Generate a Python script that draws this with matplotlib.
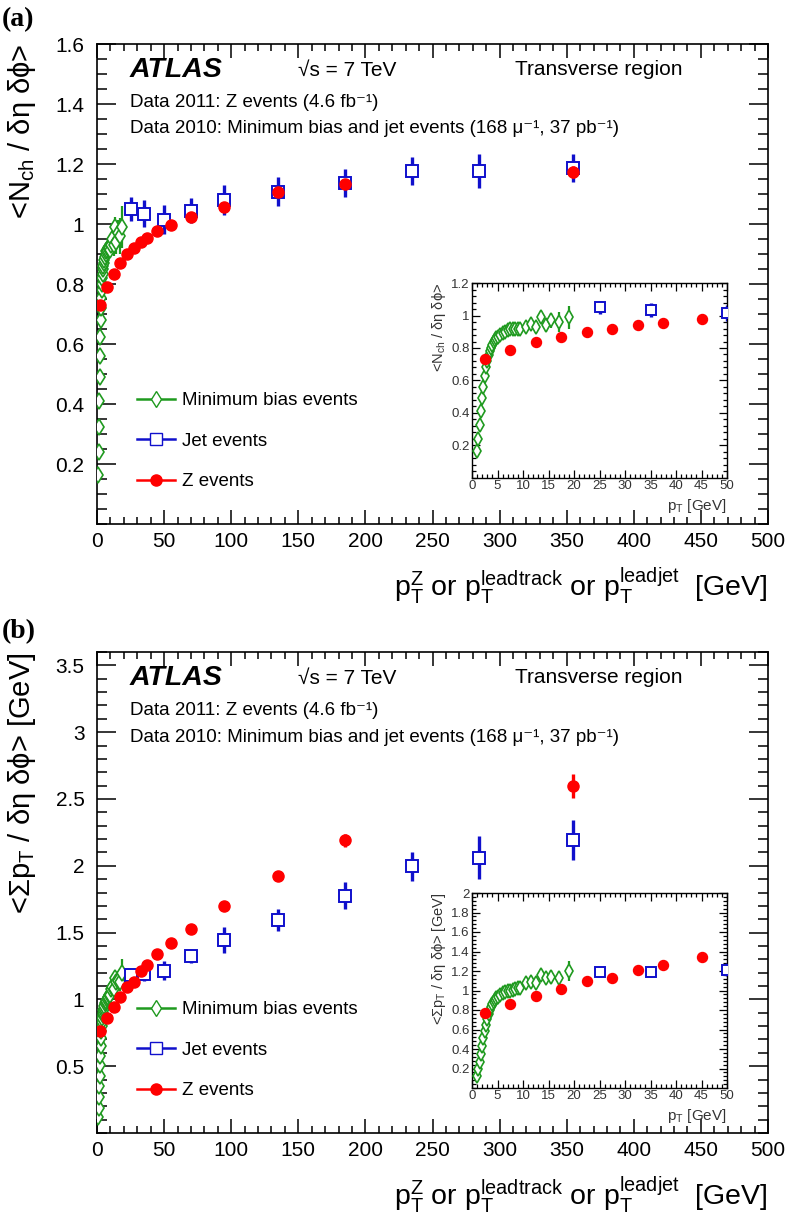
import matplotlib
matplotlib.use("Agg")
import matplotlib.pyplot as plt
from matplotlib.lines import Line2D
from matplotlib.ticker import MultipleLocator, FixedLocator

plt.rcParams['font.family'] = ['Liberation Sans', 'DejaVu Sans']
plt.rcParams['mathtext.fontset'] = 'custom'
plt.rcParams['mathtext.rm'] = 'Liberation Sans'
plt.rcParams['mathtext.it'] = 'Liberation Sans:italic'
plt.rcParams['mathtext.bf'] = 'Liberation Sans:bold'

# minimum bias events (leading track pT)
mb_pt = [1.0, 1.25, 1.5, 1.75, 2.0, 2.25, 2.5, 2.75, 3.0, 3.25, 3.5, 3.75,
         4.0, 4.25, 4.5, 4.75, 5.0, 5.5, 6.0, 6.5, 7.0, 7.5, 8.0, 8.5,
         9.0, 9.5, 10.5, 11.5, 12.5, 13.5, 14.5, 15.5, 17.0, 19.0]
mb_nch = [0.164, 0.24, 0.325, 0.41, 0.49, 0.56, 0.625, 0.68, 0.72, 0.755,
          0.78, 0.80, 0.82, 0.835, 0.85, 0.86, 0.87, 0.88, 0.89, 0.90,
          0.91, 0.915, 0.92, 0.92, 0.92, 0.915, 0.93, 0.95, 0.93, 0.99,
          0.94, 0.97, 0.96, 0.99]
mb_nch_err = [0.004] * 17 + [0.006] * 6 + [0.01] * 3 + [
    0.02, 0.025, 0.035, 0.035, 0.04, 0.045, 0.06, 0.07]
mb_sumpt = [0.12, 0.19, 0.27, 0.35, 0.43, 0.51, 0.58, 0.65, 0.71, 0.76,
            0.80, 0.83, 0.86, 0.88, 0.90, 0.92, 0.93, 0.95, 0.97, 0.98,
            0.99, 1.0, 1.01, 1.02, 1.03, 1.03, 1.075, 1.09, 1.08, 1.16,
            1.13, 1.14, 1.13, 1.20]
mb_sumpt_err = [0.004] * 17 + [0.008] * 6 + [0.012] * 3 + [
    0.02, 0.025, 0.04, 0.04, 0.05, 0.07, 0.07, 0.1]

# jet events (leading jet pT)
jet_pt = [25, 35, 50, 70, 95, 135, 185, 235, 285, 355]
jet_nch = [1.05, 1.035, 1.015, 1.045, 1.08, 1.108, 1.138, 1.177, 1.177, 1.186]
jet_nch_err = [0.04, 0.045, 0.047, 0.043, 0.05, 0.048, 0.047, 0.048, 0.057, 0.047]
jet_sumpt = [1.185, 1.19, 1.215, 1.325, 1.445, 1.595, 1.775, 1.995, 2.06, 2.19]
jet_sumpt_err = [0.04, 0.05, 0.07, 0.055, 0.095, 0.08, 0.1, 0.11, 0.16, 0.15]

# Z events (Z pT)
z_pt = [2.5, 7.5, 12.5, 17.5, 22.5, 27.5, 32.5, 37.5, 45, 55, 70, 95, 135, 185, 355]
z_nch = [0.73, 0.79, 0.835, 0.87, 0.90, 0.92, 0.94, 0.953, 0.978, 0.996,
         1.024, 1.056, 1.106, 1.133, 1.174]
z_nch_err = [0.005] * 9 + [0.006, 0.008, 0.01, 0.01, 0.012, 0.02]
z_sumpt = [0.765, 0.86, 0.94, 1.015, 1.095, 1.13, 1.215, 1.258, 1.343, 1.42,
           1.53, 1.70, 1.925, 2.19, 2.6]
z_sumpt_err = [0.005] * 9 + [0.01, 0.012, 0.015, 0.02, 0.05, 0.09]

x_ticks = [0, 50, 100, 150, 200, 250, 300, 350, 400, 450, 500]
y_ticks_a = [0.2, 0.4, 0.6, 0.8, 1.0, 1.2, 1.4, 1.6]
y_labels_a = ['0.2', '0.4', '0.6', '0.8', '1', '1.2', '1.4', '1.6']
y_ticks_b = [0.5, 1.0, 1.5, 2.0, 2.5, 3.0, 3.5]
y_labels_b = ['0.5', '1', '1.5', '2', '2.5', '3', '3.5']
ins_x_ticks = [0, 5, 10, 15, 20, 25, 30, 35, 40, 45, 50]
ins_y_ticks_a = [0.2, 0.4, 0.6, 0.8, 1.0, 1.2]
ins_y_labels_a = ['0.2', '0.4', '0.6', '0.8', '1', '1.2']
ins_y_ticks_b = [0.2, 0.4, 0.6, 0.8, 1.0, 1.2, 1.4, 1.6, 1.8, 2.0]
ins_y_labels_b = ['0.2', '0.4', '0.6', '0.8', '1', '1.2', '1.4', '1.6', '1.8', '2']

GREEN = '#1f9a1f'
BLUE = '#1010cc'
RED = '#ff0000'

W, H = 786, 1224


def draw_data(ax, mb_y, mb_e, jet_y, jet_e, z_y, z_e, scale=1.0):
    ax.errorbar(mb_pt, mb_y, yerr=mb_e, fmt='d', color=GREEN, mfc='white',
                mec=GREEN, ms=8 * scale, mew=1.2, elinewidth=1.6, capsize=0,
                zorder=3)
    ax.errorbar(jet_pt, jet_y, yerr=jet_e, fmt='s', color=BLUE, mfc='white',
                mec=BLUE, ms=8.5 * scale, mew=1.4, elinewidth=2.4, capsize=0,
                zorder=4)
    ax.errorbar(z_pt, z_y, yerr=z_e, fmt='o', color=RED, mec=RED,
                ms=8 * scale, elinewidth=2.4, capsize=0, zorder=5)


def style_main(ax, ylim, yticks, ylabels, ymin_step):
    ax.set_xlim(0, 500)
    ax.set_ylim(*ylim)
    ax.xaxis.set_major_locator(FixedLocator(x_ticks))
    ax.xaxis.set_minor_locator(MultipleLocator(10))
    ax.set_xticklabels([str(t) for t in x_ticks])
    ax.yaxis.set_major_locator(FixedLocator(yticks))
    ax.set_yticklabels(ylabels)
    ax.yaxis.set_minor_locator(MultipleLocator(ymin_step))
    ax.tick_params(which='both', direction='in', top=True, right=True,
                   width=1.1, labelsize=15)
    ax.tick_params(axis='x', which='major', length=10, pad=6)
    ax.tick_params(axis='x', which='minor', length=5)
    ax.tick_params(axis='y', which='major', length=14, pad=9)
    ax.tick_params(axis='y', which='minor', length=7)
    for s in ax.spines.values():
        s.set_linewidth(1.2)
    ax.set_xlabel(r'p$_{\rm T}^{\rm Z}$ or p$_{\rm T}^{\rm leadtrack}$ or '
                  r'p$_{\rm T}^{\rm leadjet}$  [GeV]', fontsize=20.5, loc='right')
    ax.xaxis.set_label_coords(1.0, -0.088)

    ax.text(0.049, 0.946, 'ATLAS', transform=ax.transAxes, fontsize=20.5,
            fontweight='bold', fontstyle='italic', va='center')
    ax.text(0.300, 0.946, '√s = 7 TeV', transform=ax.transAxes,
            fontsize=15, va='center')
    ax.text(0.873, 0.946, 'Transverse region', transform=ax.transAxes,
            fontsize=15, va='center', ha='right')
    ax.text(0.049, 0.879, 'Data 2011: Z events (4.6 fb⁻¹)',
            transform=ax.transAxes, fontsize=13.5, va='center')
    ax.text(0.049, 0.823, 'Data 2010: Minimum bias and jet events '
            '(168 μ⁻¹, 37 pb⁻¹)',
            transform=ax.transAxes, fontsize=13.5, va='center')

    handles = [
        Line2D([], [], color=GREEN, marker='d', mfc='white', mec=GREEN, ms=8, lw=1.8),
        Line2D([], [], color=BLUE, marker='s', mfc='white', mec=BLUE, ms=8.5, lw=1.8),
        Line2D([], [], color=RED, marker='o', mec=RED, ms=8, lw=1.8),
    ]
    ax.legend(handles, ['Minimum bias events', 'Jet events', 'Z events'],
              loc='lower left', bbox_to_anchor=(0.035, 0.035), frameon=False,
              fontsize=13.5, handlelength=2.0, handletextpad=0.4,
              labelspacing=1.25)


def style_inset(ax, ylim, yticks, ylabels, ylabel):
    ax.set_xlim(0, 50)
    ax.set_ylim(*ylim)
    ax.xaxis.set_major_locator(FixedLocator(ins_x_ticks))
    ax.set_xticklabels([str(t) for t in ins_x_ticks])
    ax.xaxis.set_minor_locator(MultipleLocator(1))
    ax.yaxis.set_major_locator(FixedLocator(yticks))
    ax.set_yticklabels(ylabels)
    ax.yaxis.set_minor_locator(MultipleLocator(0.04))
    ax.tick_params(which='both', direction='in', top=True, right=True,
                   width=0.9, labelsize=9.5, labelcolor='#333333')
    ax.tick_params(which='major', length=6, pad=1.5)
    ax.tick_params(which='minor', length=3)
    for s in ax.spines.values():
        s.set_linewidth(1.0)
    ax.set_xlabel(r'p$_{\rm T}$ [GeV]', fontsize=11, loc='right',
                  color='#333333')
    ax.xaxis.set_label_coords(1.0, -0.095)
    ax.set_ylabel(ylabel, fontsize=10.5, loc='top', color='#333333')
    ax.yaxis.set_label_coords(-0.095, 1.0)


fig = plt.figure(figsize=(W / 100, H / 100), dpi=100)

# panel (a)
ax_a = fig.add_axes([97 / W, (H - 524) / H, 671 / W, 480 / H])
draw_data(ax_a, mb_nch, mb_nch_err, jet_nch, jet_nch_err, z_nch, z_nch_err)
style_main(ax_a, (0, 1.6), y_ticks_a, y_labels_a, 0.05)
ax_a.set_ylabel(r'<N$_{\rm ch}$ / δη δϕ>', fontsize=21, loc='top')
ax_a.yaxis.set_label_coords(-0.088, 1.0)
fig.text(2 / W, 1 - 20 / H, '(a)', fontsize=20, fontweight='bold',
         family='Liberation Serif', va='center')

ins_a = fig.add_axes([472 / W, (H - 478) / H, 255 / W, 195 / H])
draw_data(ins_a, mb_nch, mb_nch_err, jet_nch, jet_nch_err, z_nch, z_nch_err,
          scale=0.9)
style_inset(ins_a, (0, 1.2), ins_y_ticks_a, ins_y_labels_a,
            r'<N$_{\rm ch}$ / δη δϕ>')

# panel (b)
ax_b = fig.add_axes([97 / W, (H - 1133) / H, 671 / W, 481 / H])
draw_data(ax_b, mb_sumpt, mb_sumpt_err, jet_sumpt, jet_sumpt_err,
          z_sumpt, z_sumpt_err)
style_main(ax_b, (0, 3.6), y_ticks_b, y_labels_b, 0.1)
ax_b.set_ylabel(r'<Σp$_{\rm T}$ / δη δϕ> [GeV]', fontsize=21, loc='top')
ax_b.yaxis.set_label_coords(-0.088, 1.0)
fig.text(2 / W, 1 - 632 / H, '(b)', fontsize=20, fontweight='bold',
         family='Liberation Serif', va='center')

ins_b = fig.add_axes([472 / W, (H - 1088) / H, 255 / W, 195 / H])
draw_data(ins_b, mb_sumpt, mb_sumpt_err, jet_sumpt, jet_sumpt_err,
          z_sumpt, z_sumpt_err, scale=0.9)
style_inset(ins_b, (0, 2.0), ins_y_ticks_b, ins_y_labels_b,
            r'<Σp$_{\rm T}$ / δη δϕ> [GeV]')

fig.savefig('out.png', dpi=100)
